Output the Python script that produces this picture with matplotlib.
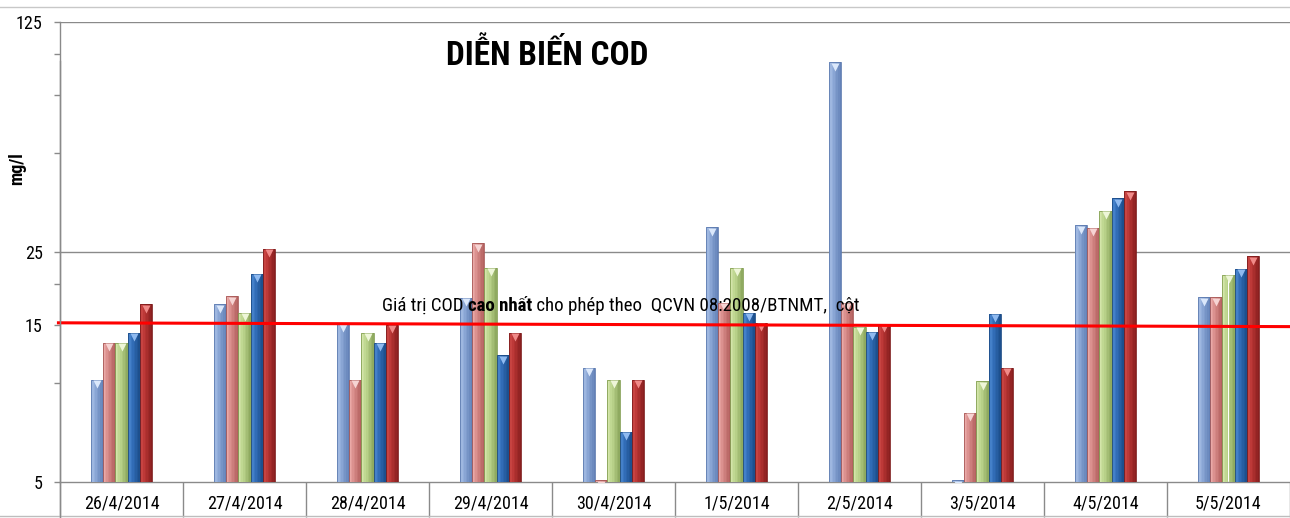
import matplotlib
matplotlib.use('Agg')
import os
import matplotlib.pyplot as plt
import numpy as np
from matplotlib.ticker import FixedLocator, FixedFormatter, NullFormatter
from matplotlib.lines import Line2D
import matplotlib.transforms as mtransforms
from matplotlib.colors import to_rgb
from matplotlib import font_manager as fm

# ---------------- data ----------------
dates = ['26/4/2014', '27/4/2014', '28/4/2014', '29/4/2014', '30/4/2014',
         '1/5/2014', '2/5/2014', '3/5/2014', '4/5/2014', '5/5/2014']
s1 = [10.2, 17.3, 15.1, 18.1, 11.1, 29.7, 94.0, 5.05, 30.1, 18.2]
s2 = [13.2, 18.3, 10.2, 26.5, 5.05, 17.5, 17.5, 8.1, 29.5, 18.2]
s3 = [13.2, 16.3, 14.2, 22.3, 10.2, 22.3, 14.8, 10.1, 33.3, 21.3]
s4 = [14.2, 21.4, 13.2, 12.1, 7.1, 16.3, 14.3, 16.2, 36.3, 22.2]
s5 = [17.3, 25.5, 15.0, 14.2, 10.2, 15.2, 15.1, 11.1, 38.2, 24.2]
series = [s1, s2, s3, s4, s5]

y_major = [5, 15, 25, 125]
y_major_labels = ['5', '15', '25', '125']
y_minor = [10, 20, 50, 75, 100]
grid_vals = [25, 125]
limit_left, limit_right = 15.2, 14.8

title = 'DIỄN BIẾN COD'
ylabel = 'mg/l'
note_a = 'Giá trị COD '
note_b = 'cao nhất'
note_c = ' cho phép theo  QCVN 08:2008/BTNMT,  cột'


# ---------------- narrow font selection ----------------
def pick_narrow():
    files = [f.fname for f in fm.fontManager.ttflist]
    prefs = ['liberationsansnarrow', 'robotocondensed', 'opensans_condensed',
             'opensanscondensed', 'opensans-condensed', 'notosans-condensed',
             'notosanscondensed', 'dejavusanscondensed', 'latocondensed']
    for p in prefs:
        reg = bold = None
        for fn in files:
            b = os.path.basename(fn).lower().replace(' ', '')
            if not b.startswith(p):
                continue
            if any(w in b for w in ['italic', 'oblique', 'light', 'thin',
                                    'medium', 'semibold', 'extrabold', 'black']):
                continue
            if 'bold' in b:
                bold = bold or fn
            else:
                reg = reg or fn
        if reg and bold:
            return (reg, bold)
    return None


narrow = pick_narrow()
if narrow:
    FP_R = fm.FontProperties(fname=narrow[0])
    FP_B = fm.FontProperties(fname=narrow[1])
else:
    FP_R = fm.FontProperties(family='DejaVu Sans', stretch='condensed')
    FP_B = fm.FontProperties(family='DejaVu Sans', stretch='condensed', weight='bold')


def fp(base, size):
    p = base.copy()
    p.set_size(size)
    return p


# left (light), centre, right (dark) shades per series
shades = [
    ('#a9c0e6', '#8eaad8', '#6482b8'),
    ('#eaa9a7', '#d88c8a', '#b46260'),
    ('#d3e5a9', '#bcd58d', '#8faa60'),
    ('#4f8bd2', '#3470bb', '#1d508e'),
    ('#d04c4a', '#b93534', '#8a1f1f'),
]
outlines = ['#5d7bb0', '#a85a58', '#85a055', '#1a4a85', '#7e1c1c']
tips = ['#dbe8fb', '#f6d4d3', '#eef6d8', '#8fbaf0', '#f08a88']
GRAY = '#8a8a8a'

fig = plt.figure(figsize=(12.9, 5.18), dpi=100)
ax = fig.add_axes([60 / 1290, 36.3 / 518, 1230 / 1290, 460 / 518])
ax.set_yscale('log')
ax.set_ylim(5, 125)
ax.set_xlim(-0.5, 9.5)

x = np.arange(len(dates))
bw = 0.1
nstrip = 8
prof = np.linspace(0, 1, nstrip)
for j, vals in enumerate(series):
    vals = np.asarray(vals)
    xc = x + (j - 2) * bw
    cl, cm, cr = (np.array(to_rgb(c)) for c in shades[j])
    for k in range(nstrip):
        t = prof[k]
        if t < 0.35:
            col = cl + (cm - cl) * (t / 0.35)
        else:
            col = cm + (cr - cm) * ((t - 0.35) / 0.65)
        sw = bw / nstrip
        ax.bar(xc - bw / 2 + (k + 0.5) * sw, vals - 5, bottom=5, width=sw,
               color=col, edgecolor='none', linewidth=0, zorder=3)
    ax.bar(xc, vals - 5, bottom=5, width=bw, fill=False,
           edgecolor=outlines[j], linewidth=0.6, zorder=4)
    off = mtransforms.ScaledTranslation(0, -3.2 / 72, fig.dpi_scale_trans)
    ax.plot(xc, vals, linestyle='none', marker='v', markersize=5.5,
            markerfacecolor=tips[j], markeredgecolor='none',
            transform=ax.transData + off, zorder=5, clip_on=True)

for g in grid_vals:
    ax.axhline(g, color=GRAY, linewidth=1.0, zorder=1)

for s in ['top', 'right']:
    ax.spines[s].set_visible(False)
for s in ['left', 'bottom']:
    ax.spines[s].set_color(GRAY)
    ax.spines[s].set_linewidth(1.0)

ax.yaxis.set_major_locator(FixedLocator(y_major))
ax.yaxis.set_major_formatter(FixedFormatter(y_major_labels))
ax.yaxis.set_minor_locator(FixedLocator(y_minor))
ax.yaxis.set_minor_formatter(NullFormatter())
ax.tick_params(axis='y', which='both', direction='out', length=4.5,
               color=GRAY, width=1.0, pad=8)
for lab in ax.get_yticklabels():
    lab.set_fontproperties(fp(FP_R, 13))

ax.set_xticks(np.arange(-0.5, len(dates) + 0.5, 1.0))
ax.set_xticklabels([])
ax.set_xticks(x, minor=True)
ax.set_xticklabels(dates, minor=True)
ax.tick_params(axis='x', which='major', direction='out', length=25,
               color=GRAY, width=1.0)
ax.tick_params(axis='x', which='minor', length=0, pad=9)
for lab in ax.get_xticklabels(minor=True):
    lab.set_fontproperties(fp(FP_R, 13))

ax.plot([-0.525, 9.5], [limit_left, limit_right], color='#ff0000',
        linewidth=2.2, zorder=6, clip_on=False, solid_capstyle='butt')

fig.text(547 / 1290, 1 - 55 / 518, title, ha='center', va='center',
         fontproperties=fp(FP_B, 24), color='black')

fig.text(17 / 1290, 1 - 169 / 518, ylabel, ha='center', va='center',
         rotation=90, fontproperties=fp(FP_B, 13))

t1 = fig.text(382 / 1290, 1 - 311 / 518, note_a, fontproperties=fp(FP_R, 13.6),
              zorder=7)
t2 = ax.annotate(note_b, xy=(1, 0), xycoords=t1, va='bottom', ha='left',
                 fontproperties=fp(FP_B, 13.6), zorder=7)
t3 = ax.annotate(note_c, xy=(1, 0), xycoords=t2, va='bottom', ha='left',
                 fontproperties=fp(FP_R, 13.6), zorder=7)

fig.add_artist(Line2D([0, 1], [1 - 515.5 / 518] * 2, color='#bdbdbd', linewidth=1.0))
fig.add_artist(Line2D([0, 1], [1 - 6.5 / 518] * 2, color='#c8c8c8', linewidth=1.0))
fig.add_artist(Line2D([60 / 1290] * 2, [1 - 36.3 / 518 - 25 / 518, 0], color=GRAY, linewidth=1.0))

fig.savefig('out.png', dpi=100, facecolor='white')
